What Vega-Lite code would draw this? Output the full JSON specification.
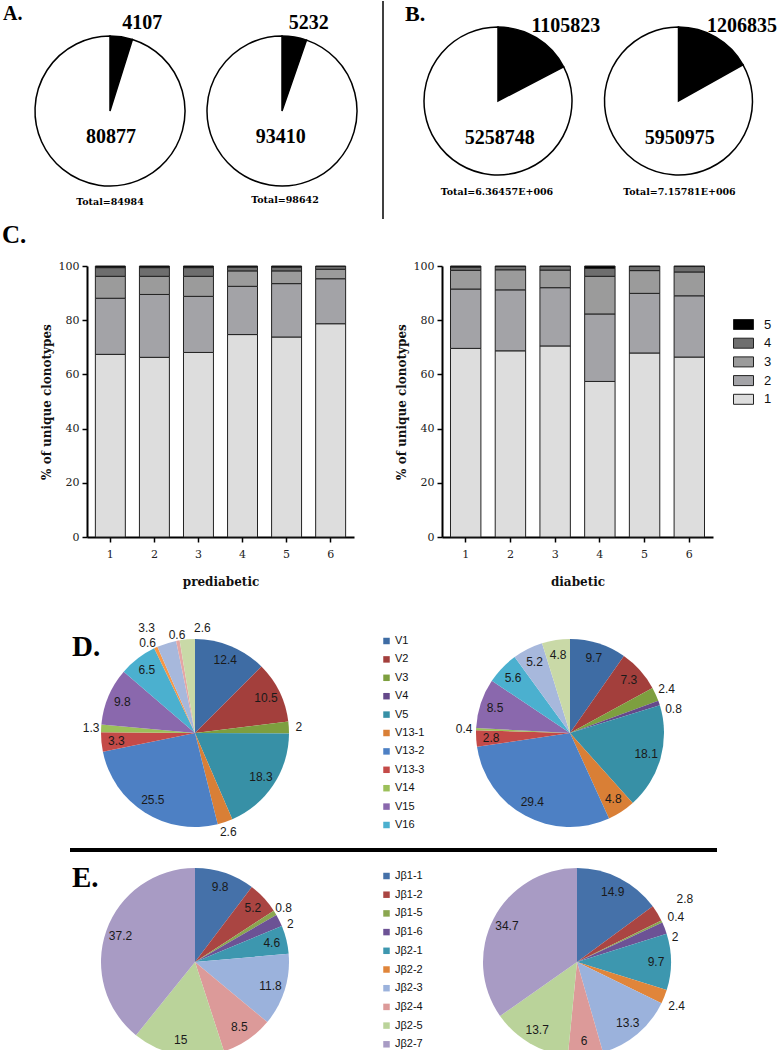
{
  "$schema": "https://vega.github.io/schema/vega-lite/v6.json",
  "padding": 0,
  "background": "white",
  "config": {
    "view": {"stroke": null},
    "axis": {"domainColor": "#000", "domainWidth": 2, "tickColor": "#000", "tickWidth": 1.5, "tickSize": 5, "labelFont": "DejaVu Serif", "labelFontSize": 11, "labelColor": "#222", "titleFont": "DejaVu Serif", "titleFontSize": 12, "titleFontWeight": "bold", "titleColor": "#111", "grid": false},
    "axisX": {"labelPadding": 6, "titlePadding": 17, "labelAngle": 0},
    "axisY": {"labelPadding": 3, "titlePadding": 5}
  },
  "spacing": 0,
  "resolve": {"scale": {"color": "independent", "theta": "independent"}},
  "vconcat": [
    {
      "bounds": "flush",
      "spacing": 0,
      "resolve": {"scale": {"color": "independent", "theta": "independent"}},
      "hconcat": [
        {
          "width": 220, "height": 220,
          "data": {"values": [{"segment": "highlighted", "count": 4107, "k": 1}, {"segment": "remainder", "count": 80877, "k": 2}]},
          "layer": [
            {"mark": {"type": "arc", "outerRadius": 75, "stroke": "#000", "strokeWidth": 1.5},
             "encoding": {"theta": {"field": "count", "type": "quantitative", "stack": true}, "order": {"field": "k", "type": "quantitative"},
               "color": {"field": "segment", "type": "nominal", "scale": {"domain": ["highlighted", "remainder"], "range": ["#000000", "#ffffff"]}, "legend": null}}},
            {"mark": {"type": "text", "radius": 95, "dx": 18, "dy": 6, "font": "Liberation Serif", "fontWeight": "bold", "fontSize": 20, "color": "#000"},
             "encoding": {"theta": {"field": "count", "type": "quantitative", "stack": true}, "order": {"field": "k", "type": "quantitative"}, "detail": {"field": "segment", "type": "nominal"},
               "text": {"condition": {"test": "datum.segment === 'highlighted'", "field": "count", "type": "quantitative", "format": "d"}, "value": ""}}},
            {"mark": {"type": "text", "radius": 26, "dx": 5, "font": "Liberation Serif", "fontWeight": "bold", "fontSize": 20, "color": "#000"},
             "encoding": {"theta": {"field": "count", "type": "quantitative", "stack": true}, "order": {"field": "k", "type": "quantitative"}, "detail": {"field": "segment", "type": "nominal"},
               "text": {"condition": {"test": "datum.segment === 'remainder'", "field": "count", "type": "quantitative", "format": "d"}, "value": ""}}},
            {"data": {"values": [{"label": "Total=84984"}]}, "mark": {"type": "text", "dy": 91, "font": "DejaVu Serif", "fontWeight": "bold", "fontSize": 9.5, "color": "#000"}, "encoding": {"text": {"field": "label", "type": "nominal"}}},
            {"data": {"values": [{"label": "A."}]}, "mark": {"type": "text", "align": "left", "baseline": "alphabetic", "dx": -107, "dy": -91, "font": "Liberation Serif", "fontWeight": "bold", "fontSize": 20, "color": "#000"}, "encoding": {"text": {"field": "label", "type": "nominal"}}},
            {"data": {"values": [{"label": "C."}]}, "mark": {"type": "text", "align": "left", "baseline": "alphabetic", "dx": -108, "dy": 132, "font": "Liberation Serif", "fontWeight": "bold", "fontSize": 25, "color": "#000"}, "encoding": {"text": {"field": "label", "type": "nominal"}}}
          ]
        },
        {
          "width": 124, "height": 220,
          "data": {"values": [{"segment": "highlighted", "count": 5232, "k": 1}, {"segment": "remainder", "count": 93410, "k": 2}]},
          "layer": [
            {"mark": {"type": "arc", "outerRadius": 75, "stroke": "#000", "strokeWidth": 1.5},
             "encoding": {"theta": {"field": "count", "type": "quantitative", "stack": true}, "order": {"field": "k", "type": "quantitative"},
               "color": {"field": "segment", "type": "nominal", "scale": {"domain": ["highlighted", "remainder"], "range": ["#000000", "#ffffff"]}, "legend": null}}},
            {"mark": {"type": "text", "radius": 95, "dx": 11, "dy": 6, "font": "Liberation Serif", "fontWeight": "bold", "fontSize": 20, "color": "#000"},
             "encoding": {"theta": {"field": "count", "type": "quantitative", "stack": true}, "order": {"field": "k", "type": "quantitative"}, "detail": {"field": "segment", "type": "nominal"},
               "text": {"condition": {"test": "datum.segment === 'highlighted'", "field": "count", "type": "quantitative", "format": "d"}, "value": ""}}},
            {"mark": {"type": "text", "radius": 26, "dx": 3, "font": "Liberation Serif", "fontWeight": "bold", "fontSize": 20, "color": "#000"},
             "encoding": {"theta": {"field": "count", "type": "quantitative", "stack": true}, "order": {"field": "k", "type": "quantitative"}, "detail": {"field": "segment", "type": "nominal"},
               "text": {"condition": {"test": "datum.segment === 'remainder'", "field": "count", "type": "quantitative", "format": "d"}, "value": ""}}},
            {"data": {"values": [{"label": "Total=98642"}]}, "mark": {"type": "text", "dx": 3, "dy": 89, "font": "DejaVu Serif", "fontWeight": "bold", "fontSize": 9.5, "color": "#000"}, "encoding": {"text": {"field": "label", "type": "nominal"}}}
          ]
        },
        {
          "width": 78, "height": 218,
          "data": {"values": [{}]},
          "mark": {"type": "rule", "strokeWidth": 1.5, "color": "#000"},
          "encoding": {"x": {"datum": 0.5, "type": "quantitative", "scale": {"domain": [0, 1]}, "axis": null}}
        },
        {
          "width": 152, "height": 200,
          "data": {"values": [{"segment": "highlighted", "count": 1105823, "k": 1}, {"segment": "remainder", "count": 5258748, "k": 2}]},
          "layer": [
            {"mark": {"type": "arc", "outerRadius": 74, "stroke": "#000", "strokeWidth": 1.5},
             "encoding": {"theta": {"field": "count", "type": "quantitative", "stack": true}, "order": {"field": "k", "type": "quantitative"},
               "color": {"field": "segment", "type": "nominal", "scale": {"domain": ["highlighted", "remainder"], "range": ["#000000", "#ffffff"]}, "legend": null}}},
            {"mark": {"type": "text", "radius": 100, "dx": 16, "dy": 10, "font": "Liberation Serif", "fontWeight": "bold", "fontSize": 20, "color": "#000"},
             "encoding": {"theta": {"field": "count", "type": "quantitative", "stack": true}, "order": {"field": "k", "type": "quantitative"}, "detail": {"field": "segment", "type": "nominal"},
               "text": {"condition": {"test": "datum.segment === 'highlighted'", "field": "count", "type": "quantitative", "format": "d"}, "value": ""}}},
            {"mark": {"type": "text", "radius": 37, "dx": 21, "dy": 5, "font": "Liberation Serif", "fontWeight": "bold", "fontSize": 20, "color": "#000"},
             "encoding": {"theta": {"field": "count", "type": "quantitative", "stack": true}, "order": {"field": "k", "type": "quantitative"}, "detail": {"field": "segment", "type": "nominal"},
               "text": {"condition": {"test": "datum.segment === 'remainder'", "field": "count", "type": "quantitative", "format": "d"}, "value": ""}}},
            {"data": {"values": [{"label": "Total=6.36457E+006"}]}, "mark": {"type": "text", "dx": -1, "dy": 91, "font": "DejaVu Serif", "fontWeight": "bold", "fontSize": 9.5, "color": "#000"}, "encoding": {"text": {"field": "label", "type": "nominal"}}},
            {"data": {"values": [{"label": "B."}]}, "mark": {"type": "text", "align": "left", "baseline": "alphabetic", "dx": -93, "dy": -80, "font": "Liberation Serif", "fontWeight": "bold", "fontSize": 22, "color": "#000"}, "encoding": {"text": {"field": "label", "type": "nominal"}}}
          ]
        },
        {
          "width": 209, "height": 200,
          "data": {"values": [{"segment": "highlighted", "count": 1206835, "k": 1}, {"segment": "remainder", "count": 5950975, "k": 2}]},
          "layer": [
            {"mark": {"type": "arc", "outerRadius": 74, "stroke": "#000", "strokeWidth": 1.5},
             "encoding": {"theta": {"field": "count", "type": "quantitative", "stack": true}, "order": {"field": "k", "type": "quantitative"},
               "color": {"field": "segment", "type": "nominal", "scale": {"domain": ["highlighted", "remainder"], "range": ["#000000", "#ffffff"]}, "legend": null}}},
            {"mark": {"type": "text", "radius": 100, "dx": 13, "dy": 11, "font": "Liberation Serif", "fontWeight": "bold", "fontSize": 20, "color": "#000"},
             "encoding": {"theta": {"field": "count", "type": "quantitative", "stack": true}, "order": {"field": "k", "type": "quantitative"}, "detail": {"field": "segment", "type": "nominal"},
               "text": {"condition": {"test": "datum.segment === 'highlighted'", "field": "count", "type": "quantitative", "format": "d"}, "value": ""}}},
            {"mark": {"type": "text", "radius": 37, "dx": 20, "dy": 5, "font": "Liberation Serif", "fontWeight": "bold", "fontSize": 20, "color": "#000"},
             "encoding": {"theta": {"field": "count", "type": "quantitative", "stack": true}, "order": {"field": "k", "type": "quantitative"}, "detail": {"field": "segment", "type": "nominal"},
               "text": {"condition": {"test": "datum.segment === 'remainder'", "field": "count", "type": "quantitative", "format": "d"}, "value": ""}}},
            {"data": {"values": [{"label": "Total=7.15781E+006"}]}, "mark": {"type": "text", "dx": 1, "dy": 91, "font": "DejaVu Serif", "fontWeight": "bold", "fontSize": 9.5, "color": "#000"}, "encoding": {"text": {"field": "label", "type": "nominal"}}}
          ]
        },
        {"width": 1, "height": 259, "data": {"values": []}, "mark": "point"}
      ]
    },
    {
      "bounds": "flush",
      "spacing": 0,
      "resolve": {"scale": {"color": "independent", "theta": "independent"}},
      "hconcat": [
        {"width": 87, "height": 351, "data": {"values": []}, "mark": "point"},
        {
          "width": 267, "height": 271,
          "data": {"values": [
            {"sample": 1, "lvl": 1, "pct": 67.4}, {"sample": 1, "lvl": 2, "pct": 20.7}, {"sample": 1, "lvl": 3, "pct": 8.1}, {"sample": 1, "lvl": 4, "pct": 3.2}, {"sample": 1, "lvl": 5, "pct": 0.6},
            {"sample": 2, "lvl": 1, "pct": 66.3}, {"sample": 2, "lvl": 2, "pct": 23.2}, {"sample": 2, "lvl": 3, "pct": 6.7}, {"sample": 2, "lvl": 4, "pct": 3.2}, {"sample": 2, "lvl": 5, "pct": 0.6},
            {"sample": 3, "lvl": 1, "pct": 68.1}, {"sample": 3, "lvl": 2, "pct": 20.7}, {"sample": 3, "lvl": 3, "pct": 7.4}, {"sample": 3, "lvl": 4, "pct": 3.2}, {"sample": 3, "lvl": 5, "pct": 0.6},
            {"sample": 4, "lvl": 1, "pct": 74.7}, {"sample": 4, "lvl": 2, "pct": 17.8}, {"sample": 4, "lvl": 3, "pct": 5.7}, {"sample": 4, "lvl": 4, "pct": 1.4}, {"sample": 4, "lvl": 5, "pct": 0.4},
            {"sample": 5, "lvl": 1, "pct": 73.8}, {"sample": 5, "lvl": 2, "pct": 19.7}, {"sample": 5, "lvl": 3, "pct": 4.7}, {"sample": 5, "lvl": 4, "pct": 1.4}, {"sample": 5, "lvl": 5, "pct": 0.4},
            {"sample": 6, "lvl": 1, "pct": 78.7}, {"sample": 6, "lvl": 2, "pct": 16.6}, {"sample": 6, "lvl": 3, "pct": 3.5}, {"sample": 6, "lvl": 4, "pct": 1.0}, {"sample": 6, "lvl": 5, "pct": 0.2}
          ]},
          "mark": {"type": "bar", "stroke": "#222", "strokeWidth": 1},
          "encoding": {
            "x": {"field": "sample", "type": "ordinal", "scale": {"paddingInner": 0.32, "paddingOuter": 0.19}, "axis": {"title": "prediabetic"}},
            "y": {"field": "pct", "type": "quantitative", "stack": "zero", "scale": {"domain": [0, 100], "nice": false}, "axis": {"title": "% of unique clonotypes", "values": [0, 20, 40, 60, 80, 100]}},
            "color": {"field": "lvl", "type": "nominal", "scale": {"domain": [5, 4, 3, 2, 1], "range": ["#000000", "#6e6e6e", "#9b9b9b", "#a3a3a7", "#dddddd"]}, "legend": null},
            "order": {"field": "lvl", "type": "quantitative"}
          }
        },
        {"width": 88, "height": 271, "data": {"values": []}, "mark": "point"},
        {
          "width": 271, "height": 271,
          "data": {"values": [
            {"sample": 1, "lvl": 1, "pct": 69.6}, {"sample": 1, "lvl": 2, "pct": 21.9}, {"sample": 1, "lvl": 3, "pct": 6.9}, {"sample": 1, "lvl": 4, "pct": 1.2}, {"sample": 1, "lvl": 5, "pct": 0.4},
            {"sample": 2, "lvl": 1, "pct": 68.7}, {"sample": 2, "lvl": 2, "pct": 22.5}, {"sample": 2, "lvl": 3, "pct": 7.4}, {"sample": 2, "lvl": 4, "pct": 1.2}, {"sample": 2, "lvl": 5, "pct": 0.2},
            {"sample": 3, "lvl": 1, "pct": 70.5}, {"sample": 3, "lvl": 2, "pct": 21.5}, {"sample": 3, "lvl": 3, "pct": 6.5}, {"sample": 3, "lvl": 4, "pct": 1.3}, {"sample": 3, "lvl": 5, "pct": 0.2},
            {"sample": 4, "lvl": 1, "pct": 57.4}, {"sample": 4, "lvl": 2, "pct": 24.9}, {"sample": 4, "lvl": 3, "pct": 13.9}, {"sample": 4, "lvl": 4, "pct": 2.9}, {"sample": 4, "lvl": 5, "pct": 0.9},
            {"sample": 5, "lvl": 1, "pct": 67.9}, {"sample": 5, "lvl": 2, "pct": 22.0}, {"sample": 5, "lvl": 3, "pct": 8.4}, {"sample": 5, "lvl": 4, "pct": 1.5}, {"sample": 5, "lvl": 5, "pct": 0.2},
            {"sample": 6, "lvl": 1, "pct": 66.4}, {"sample": 6, "lvl": 2, "pct": 22.6}, {"sample": 6, "lvl": 3, "pct": 8.8}, {"sample": 6, "lvl": 4, "pct": 2.0}, {"sample": 6, "lvl": 5, "pct": 0.2}
          ]},
          "mark": {"type": "bar", "stroke": "#222", "strokeWidth": 1},
          "encoding": {
            "x": {"field": "sample", "type": "ordinal", "scale": {"paddingInner": 0.32, "paddingOuter": 0.19}, "axis": {"title": "diabetic"}},
            "y": {"field": "pct", "type": "quantitative", "stack": "zero", "scale": {"domain": [0, 100], "nice": false}, "axis": {"title": "% of unique clonotypes", "values": [0, 20, 40, 60, 80, 100]}},
            "color": {"field": "lvl", "type": "nominal", "scale": {"domain": [5, 4, 3, 2, 1], "range": ["#000000", "#6e6e6e", "#9b9b9b", "#a3a3a7", "#dddddd"]},
              "legend": {"orient": "none", "legendX": 291, "legendY": 48, "title": null, "padding": 0, "symbolType": "M-1,-0.5H1V0.5H-1Z", "symbolSize": 400, "symbolStrokeColor": "#222", "symbolStrokeWidth": 1, "symbolOpacity": 1, "labelFont": "Liberation Sans", "labelFontSize": 13, "labelColor": "#111", "labelOffset": 10, "rowPadding": 0.7}},
            "order": {"field": "lvl", "type": "quantitative"}
          }
        }
      ]
    },
    {
      "bounds": "flush",
      "spacing": 0,
      "resolve": {"scale": {"color": "independent", "theta": "independent"}},
      "hconcat": [
        {
          "width": 390, "height": 230,
          "data": {"values": [
            {"gene": "V1", "k": 1, "pct": 12.4}, {"gene": "V2", "k": 2, "pct": 10.5}, {"gene": "V3", "k": 3, "pct": 2}, {"gene": "V5", "k": 5, "pct": 18.3},
            {"gene": "V13-1", "k": 6, "pct": 2.6}, {"gene": "V13-2", "k": 7, "pct": 25.5}, {"gene": "V13-3", "k": 8, "pct": 3.3}, {"gene": "V14", "k": 9, "pct": 1.3},
            {"gene": "V15", "k": 10, "pct": 9.8}, {"gene": "V16", "k": 11, "pct": 6.5}, {"gene": "V19", "k": 12, "pct": 0.6}, {"gene": "V20", "k": 13, "pct": 3.3},
            {"gene": "V26", "k": 14, "pct": 0.6}, {"gene": "V29", "k": 15, "pct": 2.6}
          ]},
          "layer": [
            {"mark": {"type": "arc", "outerRadius": 94},
             "encoding": {"theta": {"field": "pct", "type": "quantitative", "stack": true}, "order": {"field": "k", "type": "quantitative"},
               "color": {"field": "gene", "type": "nominal",
                 "scale": {"domain": ["V1", "V2", "V3", "V4", "V5", "V13-1", "V13-2", "V13-3", "V14", "V15", "V16", "V19", "V20", "V26", "V29"],
                           "range": ["#3e6ca4", "#a33f3c", "#7d9f3f", "#65498a", "#3790a6", "#d97f36", "#4d80c4", "#c44a48", "#9cc05a", "#8a68ad", "#4bb0cf", "#f79646", "#a7b8dc", "#e4a6a4", "#c9d9a7"]},
                 "legend": {"orient": "none", "legendX": 381, "legendY": 17.5, "title": null, "padding": 0, "values": ["V1", "V2", "V3", "V4", "V5", "V13-1", "V13-2", "V13-3", "V14", "V15", "V16"],
                   "symbolType": "square", "symbolSize": 42, "symbolStrokeWidth": 0, "symbolOpacity": 1, "labelFont": "Liberation Sans", "labelFontSize": 11, "labelColor": "#111", "labelOffset": 3, "rowPadding": 6.4}}}},
            {"mark": {"type": "text", "radius": 79, "font": "Liberation Sans", "fontSize": 12, "color": "#1a1a1a"},
             "encoding": {"theta": {"field": "pct", "type": "quantitative", "stack": true}, "order": {"field": "k", "type": "quantitative"}, "detail": {"field": "gene", "type": "nominal"},
               "text": {"condition": {"test": "datum.pct >= 3 && datum.gene !== 'V20'", "field": "pct", "type": "quantitative"}, "value": ""}}},
            {"mark": {"type": "text", "radius": 104, "font": "Liberation Sans", "fontSize": 12, "color": "#1a1a1a"},
             "encoding": {"theta": {"field": "pct", "type": "quantitative", "stack": true}, "order": {"field": "k", "type": "quantitative"}, "detail": {"field": "gene", "type": "nominal"},
               "text": {"condition": {"test": "datum.pct < 3 && datum.k < 12", "field": "pct", "type": "quantitative"}, "value": ""}}},
            {"mark": {"type": "text", "radius": 104, "dx": -4, "dy": 5, "font": "Liberation Sans", "fontSize": 12, "color": "#1a1a1a"},
             "encoding": {"theta": {"field": "pct", "type": "quantitative", "stack": true}, "order": {"field": "k", "type": "quantitative"}, "detail": {"field": "gene", "type": "nominal"},
               "text": {"condition": {"test": "datum.gene === 'V19'", "field": "pct", "type": "quantitative"}, "value": ""}}},
            {"mark": {"type": "text", "radius": 104, "dx": -17, "dy": -6, "font": "Liberation Sans", "fontSize": 12, "color": "#1a1a1a"},
             "encoding": {"theta": {"field": "pct", "type": "quantitative", "stack": true}, "order": {"field": "k", "type": "quantitative"}, "detail": {"field": "gene", "type": "nominal"},
               "text": {"condition": {"test": "datum.gene === 'V20'", "field": "pct", "type": "quantitative"}, "value": ""}}},
            {"mark": {"type": "text", "radius": 104, "dx": 1, "dy": 4, "font": "Liberation Sans", "fontSize": 12, "color": "#1a1a1a"},
             "encoding": {"theta": {"field": "pct", "type": "quantitative", "stack": true}, "order": {"field": "k", "type": "quantitative"}, "detail": {"field": "gene", "type": "nominal"},
               "text": {"condition": {"test": "datum.gene === 'V26'", "field": "pct", "type": "quantitative"}, "value": ""}}},
            {"mark": {"type": "text", "radius": 104, "dx": 16, "dy": -1, "font": "Liberation Sans", "fontSize": 12, "color": "#1a1a1a"},
             "encoding": {"theta": {"field": "pct", "type": "quantitative", "stack": true}, "order": {"field": "k", "type": "quantitative"}, "detail": {"field": "gene", "type": "nominal"},
               "text": {"condition": {"test": "datum.gene === 'V29'", "field": "pct", "type": "quantitative"}, "value": ""}}},
            {"data": {"values": [{"label": "D."}]}, "mark": {"type": "text", "align": "left", "baseline": "alphabetic", "dx": -123, "dy": -77, "font": "Liberation Serif", "fontWeight": "bold", "fontSize": 29, "color": "#000"}, "encoding": {"text": {"field": "label", "type": "nominal"}}}
          ]
        },
        {
          "width": 360, "height": 230,
          "data": {"values": [
            {"gene": "V1", "k": 1, "pct": 9.7}, {"gene": "V2", "k": 2, "pct": 7.3}, {"gene": "V3", "k": 3, "pct": 2.4}, {"gene": "V4", "k": 4, "pct": 0.8},
            {"gene": "V5", "k": 5, "pct": 18.1}, {"gene": "V13-1", "k": 6, "pct": 4.8}, {"gene": "V13-2", "k": 7, "pct": 29.4}, {"gene": "V13-3", "k": 8, "pct": 2.8},
            {"gene": "V14", "k": 9, "pct": 0.4}, {"gene": "V15", "k": 10, "pct": 8.5}, {"gene": "V16", "k": 11, "pct": 5.6}, {"gene": "V20", "k": 13, "pct": 5.2},
            {"gene": "V29", "k": 15, "pct": 4.8}
          ]},
          "layer": [
            {"mark": {"type": "arc", "outerRadius": 94},
             "encoding": {"theta": {"field": "pct", "type": "quantitative", "stack": true}, "order": {"field": "k", "type": "quantitative"},
               "color": {"field": "gene", "type": "nominal",
                 "scale": {"domain": ["V1", "V2", "V3", "V4", "V5", "V13-1", "V13-2", "V13-3", "V14", "V15", "V16", "V19", "V20", "V26", "V29"],
                           "range": ["#3e6ca4", "#a33f3c", "#7d9f3f", "#65498a", "#3790a6", "#d97f36", "#4d80c4", "#c44a48", "#9cc05a", "#8a68ad", "#4bb0cf", "#f79646", "#a7b8dc", "#e4a6a4", "#c9d9a7"]},
                 "legend": null}}},
            {"mark": {"type": "text", "radius": 79, "font": "Liberation Sans", "fontSize": 12, "color": "#1a1a1a"},
             "encoding": {"theta": {"field": "pct", "type": "quantitative", "stack": true}, "order": {"field": "k", "type": "quantitative"}, "detail": {"field": "gene", "type": "nominal"},
               "text": {"condition": {"test": "datum.pct >= 2.5", "field": "pct", "type": "quantitative"}, "value": ""}}},
            {"mark": {"type": "text", "radius": 106, "font": "Liberation Sans", "fontSize": 12, "color": "#1a1a1a"},
             "encoding": {"theta": {"field": "pct", "type": "quantitative", "stack": true}, "order": {"field": "k", "type": "quantitative"}, "detail": {"field": "gene", "type": "nominal"},
               "text": {"condition": {"test": "datum.pct < 2.5 && datum.gene !== 'V4'", "field": "pct", "type": "quantitative"}, "value": ""}}},
            {"mark": {"type": "text", "radius": 106, "dx": 3, "dy": 10, "font": "Liberation Sans", "fontSize": 12, "color": "#1a1a1a"},
             "encoding": {"theta": {"field": "pct", "type": "quantitative", "stack": true}, "order": {"field": "k", "type": "quantitative"}, "detail": {"field": "gene", "type": "nominal"},
               "text": {"condition": {"test": "datum.gene === 'V4'", "field": "pct", "type": "quantitative"}, "value": ""}}}
          ]
        }
      ]
    },
    {
      "bounds": "flush",
      "spacing": 0,
      "hconcat": [
        {"width": 70, "height": 4, "data": {"values": []}, "mark": "point"},
        {
          "width": 647, "height": 4,
          "data": {"values": [{}]},
          "mark": {"type": "rule", "strokeWidth": 4, "color": "#000"},
          "encoding": {"y": {"datum": 0.5, "type": "quantitative", "scale": {"domain": [0, 1]}, "axis": null}}
        }
      ]
    },
    {
      "bounds": "flush",
      "spacing": 0,
      "resolve": {"scale": {"color": "independent", "theta": "independent"}},
      "hconcat": [
        {
          "width": 390, "height": 220,
          "data": {"values": [
            {"gene": "Jβ1-1", "k": 1, "pct": 9.8}, {"gene": "Jβ1-2", "k": 2, "pct": 5.2}, {"gene": "Jβ1-5", "k": 3, "pct": 0.8}, {"gene": "Jβ1-6", "k": 4, "pct": 2},
            {"gene": "Jβ2-1", "k": 5, "pct": 4.6}, {"gene": "Jβ2-3", "k": 7, "pct": 11.8}, {"gene": "Jβ2-4", "k": 8, "pct": 8.5}, {"gene": "Jβ2-5", "k": 9, "pct": 15},
            {"gene": "Jβ2-7", "k": 10, "pct": 37.2}
          ]},
          "layer": [
            {"mark": {"type": "arc", "outerRadius": 94},
             "encoding": {"theta": {"field": "pct", "type": "quantitative", "stack": true}, "order": {"field": "k", "type": "quantitative"},
               "color": {"field": "gene", "type": "nominal",
                 "scale": {"domain": ["Jβ1-1", "Jβ1-2", "Jβ1-5", "Jβ1-6", "Jβ2-1", "Jβ2-2", "Jβ2-3", "Jβ2-4", "Jβ2-5", "Jβ2-7"],
                           "range": ["#4571a9", "#aa4542", "#8aa64f", "#6c5295", "#3d97af", "#e0853a", "#9bb2dc", "#dc9a99", "#bad39a", "#a89bc4"]},
                 "legend": {"orient": "none", "legendX": 381, "legendY": 18.5, "title": null, "padding": 0,
                   "symbolType": "square", "symbolSize": 42, "symbolStrokeWidth": 0, "symbolOpacity": 1, "labelFont": "Liberation Sans", "labelFontSize": 11, "labelColor": "#111", "labelOffset": 3, "rowPadding": 6.7}}}},
            {"mark": {"type": "text", "radius": 79, "font": "Liberation Sans", "fontSize": 12, "color": "#1a1a1a"},
             "encoding": {"theta": {"field": "pct", "type": "quantitative", "stack": true}, "order": {"field": "k", "type": "quantitative"}, "detail": {"field": "gene", "type": "nominal"},
               "text": {"condition": {"test": "datum.pct >= 3", "field": "pct", "type": "quantitative"}, "value": ""}}},
            {"mark": {"type": "text", "radius": 104, "font": "Liberation Sans", "fontSize": 12, "color": "#1a1a1a"},
             "encoding": {"theta": {"field": "pct", "type": "quantitative", "stack": true}, "order": {"field": "k", "type": "quantitative"}, "detail": {"field": "gene", "type": "nominal"},
               "text": {"condition": {"test": "datum.gene === 'Jβ1-5'", "field": "pct", "type": "quantitative"}, "value": ""}}},
            {"mark": {"type": "text", "radius": 104, "dx": 2, "dy": 8, "font": "Liberation Sans", "fontSize": 12, "color": "#1a1a1a"},
             "encoding": {"theta": {"field": "pct", "type": "quantitative", "stack": true}, "order": {"field": "k", "type": "quantitative"}, "detail": {"field": "gene", "type": "nominal"},
               "text": {"condition": {"test": "datum.gene === 'Jβ1-6'", "field": "pct", "type": "quantitative"}, "value": ""}}},
            {"data": {"values": [{"label": "E."}]}, "mark": {"type": "text", "align": "left", "baseline": "alphabetic", "dx": -123, "dy": -75, "font": "Liberation Serif", "fontWeight": "bold", "fontSize": 29, "color": "#000"}, "encoding": {"text": {"field": "label", "type": "nominal"}}}
          ]
        },
        {
          "width": 374, "height": 220,
          "data": {"values": [
            {"gene": "Jβ1-1", "k": 1, "pct": 14.9}, {"gene": "Jβ1-2", "k": 2, "pct": 2.8}, {"gene": "Jβ1-5", "k": 3, "pct": 0.4}, {"gene": "Jβ1-6", "k": 4, "pct": 2},
            {"gene": "Jβ2-1", "k": 5, "pct": 9.7}, {"gene": "Jβ2-2", "k": 6, "pct": 2.4}, {"gene": "Jβ2-3", "k": 7, "pct": 13.3}, {"gene": "Jβ2-4", "k": 8, "pct": 6},
            {"gene": "Jβ2-5", "k": 9, "pct": 13.7}, {"gene": "Jβ2-7", "k": 10, "pct": 34.7}
          ]},
          "layer": [
            {"mark": {"type": "arc", "outerRadius": 94},
             "encoding": {"theta": {"field": "pct", "type": "quantitative", "stack": true}, "order": {"field": "k", "type": "quantitative"},
               "color": {"field": "gene", "type": "nominal",
                 "scale": {"domain": ["Jβ1-1", "Jβ1-2", "Jβ1-5", "Jβ1-6", "Jβ2-1", "Jβ2-2", "Jβ2-3", "Jβ2-4", "Jβ2-5", "Jβ2-7"],
                           "range": ["#4571a9", "#aa4542", "#8aa64f", "#6c5295", "#3d97af", "#e0853a", "#9bb2dc", "#dc9a99", "#bad39a", "#a89bc4"]},
                 "legend": null}}},
            {"mark": {"type": "text", "radius": 79, "font": "Liberation Sans", "fontSize": 12, "color": "#1a1a1a"},
             "encoding": {"theta": {"field": "pct", "type": "quantitative", "stack": true}, "order": {"field": "k", "type": "quantitative"}, "detail": {"field": "gene", "type": "nominal"},
               "text": {"condition": {"test": "datum.pct >= 3", "field": "pct", "type": "quantitative"}, "value": ""}}},
            {"mark": {"type": "text", "radius": 104, "dx": 19, "dy": -9, "font": "Liberation Sans", "fontSize": 12, "color": "#1a1a1a"},
             "encoding": {"theta": {"field": "pct", "type": "quantitative", "stack": true}, "order": {"field": "k", "type": "quantitative"}, "detail": {"field": "gene", "type": "nominal"},
               "text": {"condition": {"test": "datum.gene === 'Jβ1-2'", "field": "pct", "type": "quantitative"}, "value": ""}}},
            {"mark": {"type": "text", "radius": 104, "dx": 5, "dy": 0, "font": "Liberation Sans", "fontSize": 12, "color": "#1a1a1a"},
             "encoding": {"theta": {"field": "pct", "type": "quantitative", "stack": true}, "order": {"field": "k", "type": "quantitative"}, "detail": {"field": "gene", "type": "nominal"},
               "text": {"condition": {"test": "datum.gene === 'Jβ1-5'", "field": "pct", "type": "quantitative"}, "value": ""}}},
            {"mark": {"type": "text", "radius": 104, "dx": 1, "dy": 13, "font": "Liberation Sans", "fontSize": 12, "color": "#1a1a1a"},
             "encoding": {"theta": {"field": "pct", "type": "quantitative", "stack": true}, "order": {"field": "k", "type": "quantitative"}, "detail": {"field": "gene", "type": "nominal"},
               "text": {"condition": {"test": "datum.gene === 'Jβ1-6'", "field": "pct", "type": "quantitative"}, "value": ""}}},
            {"mark": {"type": "text", "radius": 104, "dx": 3, "dy": 6, "font": "Liberation Sans", "fontSize": 12, "color": "#1a1a1a"},
             "encoding": {"theta": {"field": "pct", "type": "quantitative", "stack": true}, "order": {"field": "k", "type": "quantitative"}, "detail": {"field": "gene", "type": "nominal"},
               "text": {"condition": {"test": "datum.gene === 'Jβ2-2'", "field": "pct", "type": "quantitative"}, "value": ""}}}
          ]
        }
      ]
    }
  ]
}
